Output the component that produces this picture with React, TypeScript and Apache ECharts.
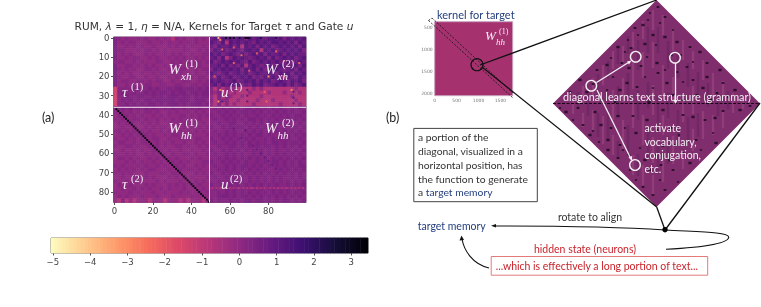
import React, { useEffect, useRef } from "react";
import * as echarts from "echarts";

const levelValues: Record<string, number> = { "0": -2.5, "1": -1.9, "2": -1.3, "3": -0.7, "4": -0.05, "5": 0.15, "6": 0.4, "7": 0.75, "8": 1.15, "9": 1.7 };

const topLeft = [
  "6545445454454543545445454", "6454554445445454454545444", "6445454544544454545454454",
  "6554445455454544445544545", "6454544454544545454454455", "6445455445454454545445454",
  "5554454544455445454554545", "6445545454544545544454544", "6545454455454454455445455",
  "6454544544545545454545445", "6544554454454454545454554", "6455445545455445445544545",
  "6445454455445544554455455", "2555556556565565665665656", "2565565565656656566566566",
  "2556556655656566656656566", "2565656566566666566656665", "2556565656656566656566656",
];
const topRight = [
  "7868787886878778878687878", "8768387878768787887878687", "7687786838786878678787868",
  "6878678768878387867878786", "8786787686787868778687877", "7868368787678786867878678",
  "8678787876867878787686787", "7786867683787678678767868", "6878787868786867887678687",
  "8767867878678778768786878", "7686786787867687876387687", "8787678678786878678768786",
  "7868787867687867787868678", "5363544333343433333333433", "5463534333433334333433343",
  "4363543343333433333334333", "5364533433334333433333433", "4363534333343333334333343",
];
const bottomLeft = [
  "5565656565655656556565655", "5454545455454454544545454", "4545454544545454455454545",
  "5454455454454545454544544", "4545544545454454545455454", "4454454454545545445454545",
  "5545454545445454454545454", "4454545454544545545454445", "5445454544554454454545544",
  "4554454554454545445445454", "5445545445454544554544545", "4454454544545454454454454",
  "5445454454544545445545445", "4554545445454454544454544", "4445454544545445454544455",
  "5454445454454544545445454", "4545454545544454454554544", "5454544454445545544445454",
  "4454455454544454545454445", "5445454544454544454445454", "4544544454544454545454544",
  "4454454545445454445444454", "5444545444544544454544545", "4545444544454445444454444",
  "4353434443444344434344434",
];
const bottomRight = [
  "5656565656656565656556565", "5565656566565656565656556", "6556565656556565656565665",
  "5655656565665656565565656", "5565566556565656656565565", "6556565665656565565656656",
  "5655656556565656565656565", "5565656565656656556565656", "6556565656565565656565565",
  "5655656565656565665656656", "5565566565656566565656565", "6556565656565656565565656",
  "5655656565565656565656565", "5565656565656565656565656", "6556565656556565665656565",
  "5655656566565656565656566", "5565656565656565556565656", "6556565656565656565656565",
  "5655656565656565656556565", "5565566565656565656565656", "6556565656565656565565656",
  "5655656565565656656565565", "5565656565656565656565656", "5566656566565656565656565",
  "6565565656656656565665656",
];
const row78 = "4343434344343433434343343434344343434343343434343";

const fineCells: [number, number, number][] = [
  [54, 0, -3.6], [55, 1, -2.8], [58, 0, 3.1], [60, 0, 3], [62, 0, 3.2], [65, 0, 2.6], [68, 0, 3.3], [69, 0, 3.3], [70, 0, 3],
  [76, 0, 2.4], [84, 0, 2.2], [56, 6, -2.4], [62, 5, -2], [66, 9, -2.4], [74, 8, -2], [84, 7, -2.3], [96, 13, -2.4],
  [80, 20, -3], [92, 27, -2.8], [55, 27, -2.8], [54, 33, -3], [62, 13, -2.1], [70, 17, -2], [88, 12, -2], [78, 28, -2.1],
  [79, 33, -2.2], [52, 20, -2], [69, 27, 1], [69, 30, 1], [69, 33, 1], [93, 28, 1.1], [93, 31, 1.1], [93, 34, 1],
  [56, 30, 1.1], [56, 33, 1.1], [72, 56, 0.9], [74, 58, 0.8], [76, 60, 1], [78, 62, 0.8], [80, 64, 0.9], [82, 66, 0.8], [84, 68, 0.8],
  [62, 47, 1], [66, 52, 0.9], [68, 48, 1.1],
];

const diagonalCols = [1, 2, 3, 4, 5, 6, 7, 8, 9, 10, 11, 12, 13, 14, 15, 16, 17, 18, 19, 20, 21, 22, 23, 24, 25, 26, 27, 28, 29, 30, 31, 32, 33, 34, 35, 36, 37, 38, 39, 40, 41, 42, 43, 44, 45, 46, 47, 48, 49];
const diagonalRows = [37, 38, 39, 40, 41, 42, 43, 44, 45, 46, 47, 48, 49, 50, 51, 52, 53, 54, 55, 56, 57, 58, 59, 60, 61, 62, 63, 64, 65, 66, 67, 68, 69, 70, 71, 72, 73, 74, 75, 76, 77, 78, 79, 80, 81, 82, 83, 84, 85];

const xCategories = Array.from({ length: 100 }, (_, i) => String(i));
const yCategories = Array.from({ length: 86 }, (_, i) => String(i));

const colorbarValues = ["-5", "-4.9", "-4.8", "-4.7", "-4.6", "-4.5", "-4.4", "-4.3", "-4.2", "-4.1", "-4", "-3.9", "-3.8", "-3.7", "-3.6", "-3.5", "-3.4", "-3.3", "-3.2", "-3.1", "-3", "-2.9", "-2.8", "-2.7", "-2.6", "-2.5", "-2.4", "-2.3", "-2.2", "-2.1", "-2", "-1.9", "-1.8", "-1.7", "-1.6", "-1.5", "-1.4", "-1.3", "-1.2", "-1.1", "-1", "-0.9", "-0.8", "-0.7", "-0.6", "-0.5", "-0.4", "-0.3", "-0.2", "-0.1", "0", "0.1", "0.2", "0.3", "0.4", "0.5", "0.6", "0.7", "0.8", "0.9", "1", "1.1", "1.2", "1.3", "1.4", "1.5", "1.6", "1.7", "1.8", "1.9", "2", "2.1", "2.2", "2.3", "2.4", "2.5", "2.6", "2.7", "2.8", "2.9", "3", "3.1", "3.2", "3.3", "3.4"];

const magmaReversed = ["#fcfdbf", "#fecf92", "#fe9f6d", "#f7705c", "#de4968", "#b73779", "#8c2981", "#641a80", "#3b0f70", "#140e36", "#000004"];

const diamondVertices = [[103.5, 0], [207, 103.5], [103.5, 207], [0, 103.5]];
const lightStreaks: [number, number, number][] = [
  [20, 104, 20], [30, 95, 18], [30, 120, 14], [40, 90, 24], [40, 120, 20], [50, 75, 20], [50, 130, 28], [60, 60, 18], [60, 105, 30], [60, 145, 20],
  [70, 55, 18], [70, 90, 24], [70, 135, 30], [80, 40, 16], [80, 75, 28], [80, 115, 26], [80, 165, 20], [90, 30, 18], [90, 65, 26], [90, 130, 30], [90, 175, 20],
  [100, 20, 20], [100, 55, 26], [100, 100, 30], [100, 150, 26], [100, 185, 20], [110, 25, 20], [110, 80, 30], [110, 125, 20], [110, 170, 24],
  [120, 40, 22], [120, 90, 26], [120, 150, 28], [130, 50, 20], [130, 110, 24], [130, 160, 18], [140, 60, 18], [140, 100, 28], [140, 140, 22],
  [150, 70, 20], [150, 125, 28], [160, 85, 24], [160, 125, 20], [170, 90, 18], [170, 120, 16], [180, 103, 20], [190, 103, 12],
];
const darkStreaks: [number, number, number][] = [
  [25, 100, 16], [35, 105, 22], [45, 85, 22], [45, 125, 24], [55, 70, 18], [55, 125, 30], [65, 55, 18], [65, 100, 28], [65, 150, 18],
  [75, 45, 18], [75, 85, 24], [75, 140, 30], [85, 55, 30], [85, 105, 30], [85, 165, 22], [95, 40, 26], [95, 95, 26], [95, 145, 28],
  [105, 40, 26], [105, 110, 28], [105, 160, 28], [115, 55, 28], [115, 105, 26], [115, 150, 28], [125, 65, 26], [125, 125, 30],
  [135, 75, 24], [135, 130, 26], [145, 85, 26], [145, 125, 24], [155, 95, 24], [165, 105, 22], [175, 100, 18],
];
const darkSpecks: [number, number, number][] = [
  [105, 7, 2.5], [97, 13, 2], [112, 17, 2.5], [90, 25, 3], [107, 23, 2], [82, 28, 2.5], [100, 35, 3], [85, 35, 2], [65, 47, 3], [75, 40, 2], [112, 37, 3],
  [103, 45, 2], [124, 42, 3], [137, 47, 2.5], [147, 52, 3], [72, 52, 2], [54, 65, 3], [69, 63, 2.5], [94, 57, 2], [104, 63, 3], [134, 67, 2.5], [140, 62, 2],
  [154, 63, 2.5], [167, 70, 3], [44, 70, 2.5], [27, 80, 3], [60, 77, 2], [74, 83, 3], [92, 77, 2], [105, 73, 2.5], [114, 83, 3], [130, 82, 2], [140, 80, 2.5],
  [154, 77, 3], [170, 83, 2.5], [182, 90, 3], [17, 92, 2.5], [34, 92, 3], [54, 90, 2], [67, 90, 3], [84, 87, 2.5], [100, 88, 2], [124, 72, 2.5], [150, 88, 3],
  [164, 93, 2.5], [13, 112, 3], [30, 125, 2.5], [20, 120, 2], [7, 108, 2], [48, 125, 3], [65, 116, 3], [80, 116, 2.5], [37, 135, 3], [40, 131, 2],
  [55, 140, 3], [67, 145, 2.5], [55, 150, 3], [65, 158, 2.5], [70, 150, 2], [83, 133, 3], [87, 148, 2], [110, 146, 2.5], [130, 115, 2.5], [140, 117, 3],
  [170, 111, 2.5], [187, 110, 3], [197, 106, 2.5], [160, 133, 2], [143, 140, 2.5], [163, 143, 3], [137, 163, 3], [120, 170, 2.5], [107, 180, 2], [97, 170, 3],
  [90, 187, 2.5], [83, 180, 2], [130, 153, 2.5], [117, 160, 3], [112, 190, 2.5], [77, 170, 2],
  [95, 20, 2], [78, 48, 2.5], [120, 30, 2], [92, 44, 3], [58, 58, 2], [118, 55, 3], [128, 55, 2], [40, 84, 2.5], [48, 100, 3], [62, 102, 2.5], [76, 68, 3],
  [88, 66, 2.5], [112, 70, 2], [120, 95, 3], [144, 95, 2.5], [158, 100, 3], [175, 97, 2], [25, 108, 2.5], [42, 112, 3], [58, 128, 2.5], [72, 128, 2],
  [94, 120, 3], [104, 130, 2.5], [118, 128, 3], [126, 135, 2], [152, 120, 2.5], [162, 118, 3], [46, 142, 2], [76, 155, 2.5], [92, 160, 3], [102, 155, 2],
  [100, 195, 2.5], [108, 165, 2.5], [125, 182, 2], [122, 145, 2.5], [148, 150, 2], [110, 110, 3], [78, 98, 2.5], [96, 102, 3], [130, 100, 2.5],
];

const mathLabels = [
  { base: "W", sub: "xh", sup: "(1)", x: 168.5, y: 69 },
  { base: "W", sub: "xh", sup: "(2)", x: 265, y: 69 },
  { base: "W", sub: "hh", sup: "(1)", x: 168.5, y: 128 },
  { base: "W", sub: "hh", sup: "(2)", x: 265, y: 128 },
  { base: "τ", sub: "", sup: "(1)", x: 122, y: 92 },
  { base: "τ", sub: "", sup: "(2)", x: 122, y: 184 },
  { base: "u", sub: "", sup: "(1)", x: 221, y: 92 },
  { base: "u", sub: "", sup: "(2)", x: 221, y: 184 },
];

const BLUE = "#25407f";
const RED = "#c8242c";
const BODY_FONT = "Lato";
const MATH_FONT = "Liberation Serif";

function buildHeat() {
  const cells: number[][] = [];
  const addBlock = (rows: string[], colStart: number, rowStart: number) => {
    rows.forEach((line, r) => {
      line.split("").forEach((ch, c) => {
        for (let dy = 0; dy < 2; dy++) for (let dx = 0; dx < 2; dx++) {
          cells.push([colStart + c * 2 + dx, rowStart + r * 2 + dy, levelValues[ch]]);
        }
      });
    });
  };
  addBlock(topLeft, 0, 0);
  addBlock(topRight, 50, 0);
  addBlock(bottomLeft, 0, 36);
  addBlock(bottomRight, 50, 36);
  return cells;
}

function buildFine() {
  const cells: number[][] = [];
  row78.split("").forEach((ch, c) => {
    cells.push([50 + c, 78, levelValues[ch]]);
  });
  fineCells.forEach((cell) => cells.push(cell));
  diagonalCols.forEach((col, i) => cells.push([col, diagonalRows[i], 3.25]));
  return cells;
}

function mathGraphic(l: { base: string; sub: string; sup: string; x: number; y: number }) {
  const fill = "#f6eef6";
  const isW = l.base === "W";
  const kids: any[] = [
    { type: "text", x: l.x, y: l.y, z: 100, style: { text: l.base, fill, font: `italic 15px "${MATH_FONT}"`, verticalAlign: "middle" } },
    { type: "text", x: l.x + (isW ? 17 : 9), y: l.y - 6, z: 100, style: { text: l.sup, fill, font: `10.5px "${MATH_FONT}"`, verticalAlign: "middle" } },
  ];
  if (l.sub) kids.push({ type: "text", x: l.x + 12.6, y: l.y + 7, z: 100, style: { text: l.sub, fill, font: `italic 11px "${MATH_FONT}"`, verticalAlign: "middle" } });
  return { type: "group", children: kids };
}

function bodyText(text: string, x: number, y: number, fill: string, size = 10.5, align = "left") {
  return { type: "text", x, y, z: 100, style: { text, fill, font: `${size}px "${BODY_FONT}"`, align, verticalAlign: "middle" } };
}

function line(x1: number, y1: number, x2: number, y2: number, stroke: string, lineWidth = 1.2, lineDash?: number[]) {
  return { type: "line", z: 90, shape: { x1, y1, x2, y2 }, style: { stroke, lineWidth, lineDash } };
}

function ring(cx: number, cy: number, r: number, stroke: string, lineWidth: number) {
  return { type: "circle", z: 95, shape: { cx, cy, r }, style: { fill: "none", stroke, lineWidth } };
}

function curve(x1: number, y1: number, cpx1: number, cpy1: number, cpx2: number, cpy2: number, x2: number, y2: number) {
  return { type: "bezierCurve", z: 90, shape: { x1, y1, cpx1, cpy1, cpx2, cpy2, x2, y2 }, style: { stroke: "#111", lineWidth: 1.1, fill: "none" } };
}

function tri(points: number[][], fill: string) {
  return { type: "polygon", z: 95, shape: { points }, style: { fill } };
}

export default function App() {
  const ref = useRef<HTMLDivElement>(null);
  useEffect(() => {
    const chart = echarts.init(ref.current!, undefined, { renderer: "svg" });
    const axisGrey = "#555";
    chart.setOption({
      animation: false,
      backgroundColor: "#ffffff",
      title: {
        text: "RUM, {i|λ} = 1, {i|η} = N/A, Kernels for Target {i|τ} and Gate {i|u}",
        left: 209,
        top: 15,
        textAlign: "center",
        textStyle: {
          fontFamily: "DejaVu Sans", fontSize: 10.6, fontWeight: "normal", color: "#333",
          rich: { i: { fontFamily: "DejaVu Sans", fontStyle: "italic", fontSize: 10.6, color: "#333" } },
        },
      },
      visualMap: {
        show: false, type: "continuous", min: -5.05, max: 3.45, dimension: 2, seriesIndex: [0, 1, 2],
        inRange: { color: magmaReversed },
      },
      grid: [
        { left: 113.5, top: 37, width: 192.5, height: 165.5, show: true, borderColor: "#888", borderWidth: 1, backgroundColor: "transparent" },
        { left: 51, top: 238, width: 317, height: 15, show: true, borderColor: "#666", borderWidth: 1, backgroundColor: "transparent" },
        { left: 434.7, top: 21.7, width: 78, height: 74, show: true, backgroundColor: "#a5326f", borderColor: "#c9a3bf", borderWidth: 1 },
        { left: 553, top: 0, width: 207, height: 207 },
      ],
      xAxis: [
        {
          gridIndex: 0, type: "category", data: xCategories, position: "bottom",
          axisLine: { show: false },
          axisTick: { show: true, length: 2.5, alignWithLabel: true, interval: (i: number) => i % 20 === 0, lineStyle: { color: axisGrey } },
          axisLabel: { show: true, interval: (i: number) => i % 20 === 0, fontFamily: "DejaVu Sans", fontSize: 8.5, color: "#444", margin: 4 },
        },
        {
          gridIndex: 1, type: "category", data: colorbarValues,
          axisLine: { show: false },
          axisTick: { show: true, length: 2.5, alignWithLabel: true, interval: (_: number, v: string) => Number.isInteger(Number(v)), lineStyle: { color: axisGrey } },
          axisLabel: {
            show: true, interval: (_: number, v: string) => Number.isInteger(Number(v)), fontFamily: "DejaVu Sans", fontSize: 8.5, color: "#444", margin: 4,
            formatter: (v: string) => v.replace("-", "−"),
          },
        },
        {
          gridIndex: 2, type: "value", min: 0, max: 1780, position: "bottom",
          splitLine: { show: false }, axisTick: { show: false }, axisLine: { show: false },
          axisLabel: { show: true, customValues: [0, 500, 1000, 1500], formatter: (v: number) => String(v), fontFamily: "DejaVu Sans", fontSize: 4.5, color: "#777", margin: 2 },
        },
        { gridIndex: 3, type: "value", min: 0, max: 207, show: false },
      ],
      yAxis: [
        {
          gridIndex: 0, type: "category", data: yCategories, inverse: true,
          axisLine: { show: false },
          axisTick: { show: true, length: 2.5, alignWithLabel: true, interval: (i: number) => i % 10 === 0, lineStyle: { color: axisGrey } },
          axisLabel: { show: true, interval: (i: number) => i % 10 === 0, fontFamily: "DejaVu Sans", fontSize: 8.5, color: "#444", margin: 4 },
        },
        { gridIndex: 1, type: "category", data: ["bar"], show: false },
        {
          gridIndex: 2, type: "value", min: 362, max: 2060, inverse: true,
          splitLine: { show: false }, axisTick: { show: false }, axisLine: { show: false },
          axisLabel: { show: true, customValues: [500, 1000, 1500, 2000], formatter: (v: number) => String(v), fontFamily: "DejaVu Sans", fontSize: 4.5, color: "#777", margin: 2 },
        },
        { gridIndex: 3, type: "value", min: 0, max: 207, inverse: true, show: false },
      ],
      series: [
        { type: "heatmap", xAxisIndex: 0, yAxisIndex: 0, data: buildHeat(), silent: true, progressive: 0, itemStyle: { borderWidth: 0 } },
        { type: "heatmap", xAxisIndex: 1, yAxisIndex: 1, data: colorbarValues.map((v, i) => [i, 0, Number(v)]), silent: true, progressive: 0 },
        {
          type: "custom", xAxisIndex: 0, yAxisIndex: 0, silent: true, data: buildFine(), z: 3, encode: { x: 0, y: 1 },
          renderItem: (_: any, api: any) => {
            const c = api.coord([api.value(0), api.value(1)]);
            const s = api.size([1, 1]);
            return { type: "rect", shape: { x: c[0] - s[0] / 2, y: c[1] - s[1] / 2, width: s[0], height: s[1] }, style: { fill: api.visual("color") } };
          },
        },
        {
          type: "custom", xAxisIndex: 3, yAxisIndex: 3, silent: true, clip: false, data: diamondVertices, z: 2,
          renderItem: (params: any, api: any) => {
            if (params.dataIndex !== 0) return null;
            return { type: "polygon", shape: { points: diamondVertices.map((p) => api.coord(p)) }, style: { fill: "#7f2d6c" } };
          },
        },
        {
          type: "scatter", xAxisIndex: 3, yAxisIndex: 3, silent: true, data: lightStreaks, z: 3, symbol: "rect",
          symbolSize: (d: number[]) => [2.4, d[2]], itemStyle: { color: "#96437f", opacity: 0.75 },
        },
        {
          type: "scatter", xAxisIndex: 3, yAxisIndex: 3, silent: true, data: darkStreaks, z: 3, symbol: "rect",
          symbolSize: (d: number[]) => [2.4, d[2]], itemStyle: { color: "#67265f", opacity: 0.65 },
        },
        {
          type: "scatter", xAxisIndex: 3, yAxisIndex: 3, silent: true, data: darkSpecks, z: 4, symbol: "rect",
          symbolSize: (d: number[]) => [d[2] * 1.1, d[2] * 0.8], itemStyle: { color: "#1b0a20" },
        },
      ],
      graphic: {
        elements: [
          line(209.5, 37, 209.5, 202.5, "#f3e6f0", 1),
          line(113.5, 107.3, 306, 107.3, "#f3e6f0", 1),
          ...mathLabels.map(mathGraphic),
          bodyText("(a)", 42, 117, "#222", 12.5),
          bodyText("(b)", 386, 117, "#222", 12.5),
          bodyText("kernel for target", 437, 14, BLUE, 11),
          { type: "text", x: 485, y: 35, z: 100, style: { text: "W", fill: "#f6eef6", font: `italic 13px "${MATH_FONT}"`, verticalAlign: "middle" } },
          { type: "text", x: 496, y: 41.5, z: 100, style: { text: "hh", fill: "#f6eef6", font: `italic 9px "${MATH_FONT}"`, verticalAlign: "middle" } },
          { type: "text", x: 499, y: 31, z: 100, style: { text: "(1)", fill: "#f6eef6", font: `8px "${MATH_FONT}"`, verticalAlign: "middle" } },
          line(428.5, 20.5, 513, 98, "#111", 0.8, [2, 1.5]),
          line(432, 18, 514, 94, "#111", 0.8, [2, 1.5]),
          line(428.5, 20.5, 432, 18, "#111", 0.8, [2, 1.5]),
          ring(477, 64.7, 6, "#111", 1.2),
          line(480, 65, 656.7, 0, "#111", 1.3),
          line(482, 67, 656.7, 207, "#111", 1.3),
          line(656.7, 207, 665, 230, "#111", 1.3),
          line(665, 230, 760, 103, "#111", 1.3),
          { type: "circle", z: 96, shape: { cx: 665, cy: 229.7, r: 2.7 }, style: { fill: "#000" } },
          line(553, 103.5, 760, 103.5, "#16081a", 1, [3, 1.5]),
          ring(635.7, 56.7, 5.3, "#f4f0f4", 1.4),
          ring(675, 57.7, 5.3, "#f4f0f4", 1.4),
          ring(591.3, 85.7, 5.3, "#f4f0f4", 1.4),
          ring(635, 165, 5.3, "#f4f0f4", 1.4),
          line(596.5, 82.5, 630, 61.5, "#f4f0f4", 1.3),
          tri([[631.5, 60.5], [627, 61.5], [629, 64.5]], "#f4f0f4"),
          line(675.5, 63, 675.5, 102, "#f4f0f4", 1.3),
          tri([[675.5, 104], [673.5, 100], [677.5, 100]], "#f4f0f4"),
          line(597, 90, 631.5, 160, "#f4f0f4", 1.3),
          tri([[632, 160.5], [628.5, 157.5], [632, 156]], "#f4f0f4"),
          bodyText("diagonal learns text structure (grammar)", 563, 96.7, "#f4eef4", 10.8),
          bodyText("activate", 644.5, 128.3, "#f4eef4", 10.5),
          bodyText("vocabulary,", 644.5, 141.7, "#f4eef4", 10.5),
          bodyText("conjugation,", 644.5, 155.3, "#f4eef4", 10.5),
          bodyText("etc.", 644.5, 169.3, "#f4eef4", 10.5),
          { type: "rect", z: 80, shape: { x: 413.8, y: 128.4, width: 123.5, height: 73.3 }, style: { fill: "#fff", stroke: "#444", lineWidth: 1 } },
          bodyText("a portion of the", 418, 137.3, "#333", 10.3),
          bodyText("diagonal, visualized in a", 418, 151, "#333", 10.3),
          bodyText("horizontal position, has", 418, 165, "#333", 10.3),
          bodyText("the function to generate", 418, 178.7, "#333", 10.3),
          {
            type: "text", x: 418, y: 192, z: 100,
            style: {
              text: "a {b|target memory}", fill: "#333", font: `10.3px "${BODY_FONT}"`, verticalAlign: "middle",
              rich: { b: { fill: BLUE, font: `10.3px "${BODY_FONT}"` } },
            },
          },
          bodyText("rotate to align", 590, 217, "#333", 10.5, "center"),
          bodyText("target memory", 417.7, 225.7, BLUE, 10.5),
          bodyText("hidden state (neurons)", 585, 249, RED, 10.5, "center"),
          { type: "rect", z: 80, shape: { x: 491.2, y: 256.5, width: 216.5, height: 18.7 }, style: { fill: "#fff", stroke: "#e27a7a", lineWidth: 1 } },
          bodyText("...which is effectively a long portion of text...", 495.7, 266.3, RED, 10.5),
          curve(495, 226, 560, 226, 620, 227, 665, 230),
          tri([[491, 225.8], [496, 224], [496, 227.6]], "#111"),
          curve(665, 230, 700, 232, 728, 232, 728.7, 237),
          curve(728.7, 237, 729, 245, 690, 248, 666, 249.3),
          curve(489, 268, 472, 264, 464, 250, 462, 239),
          tri([[461.5, 235.5], [459.5, 240.5], [464, 240]], "#111"),
        ],
      },
    });
    return () => chart.dispose();
  }, []);
  return <div ref={ref} style={{ position: "absolute", left: 0, top: 0, width: 761, height: 307, filter: "blur(0.4px)" }} />;
}
